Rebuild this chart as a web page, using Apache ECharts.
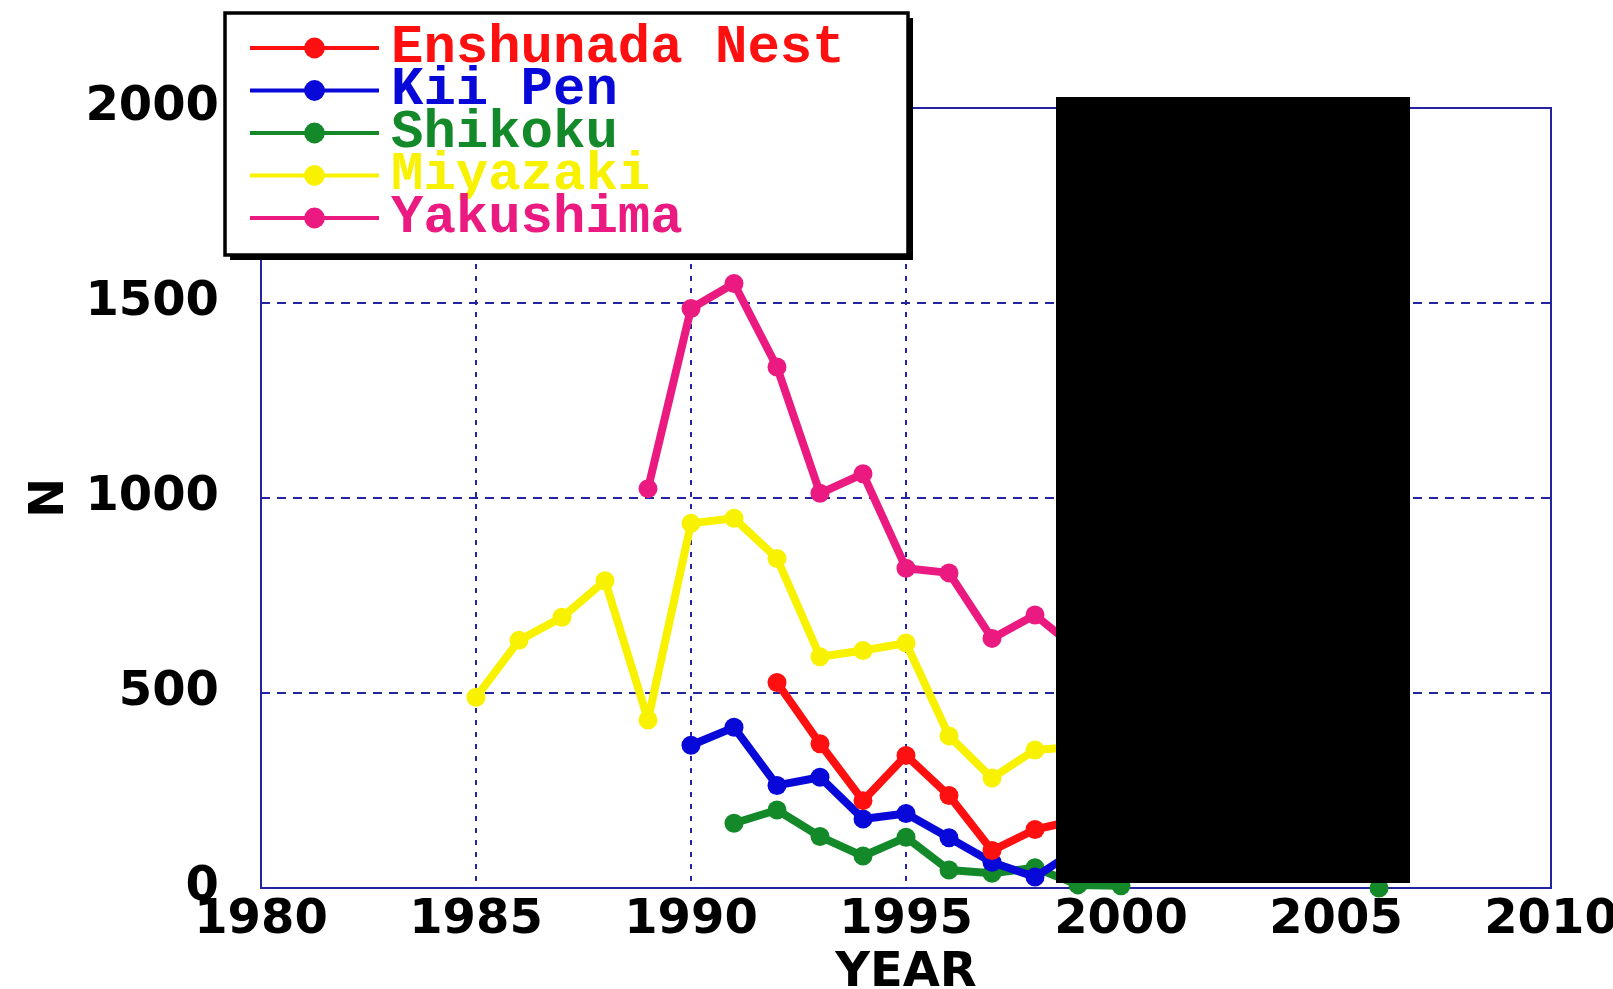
<!DOCTYPE html>
<html>
<head>
<meta charset="utf-8">
<script src="https://cdn.jsdelivr.net/npm/echarts@6/dist/echarts.min.js"></script>
<style>
html,body{margin:0;padding:0;background:#fff;}
#chart{width:1613px;height:989px;}
</style>
</head>
<body>
<div id="chart"></div>
<script>
// ---- data ----
var seriesNames = ['Enshunada Nest', 'Kii Pen', 'Shikoku', 'Miyazaki', 'Yakushima'];
var seriesColors = ['#ff1010', '#0808d8', '#13892a', '#f8f200', '#ea1a80'];

var enshunadaYears  = [1992, 1993, 1994, 1995, 1996, 1997, 1998, 1999];
var enshunadaValues = [527, 370, 224, 340, 237, 96, 150, 175];

var kiiYears  = [1990, 1991, 1992, 1993, 1994, 1995, 1996, 1997, 1998, 1999];
var kiiValues = [366, 412, 263, 284, 177, 191, 129, 66, 28, 100];

var shikokuYears  = [1991, 1992, 1993, 1994, 1995, 1996, 1997, 1998, 1999, 2000, 2001, 2006];
var shikokuValues = [166, 200, 132, 82, 130, 46, 38, 52, 8, 6, null, 0];

var miyazakiYears  = [1985, 1986, 1987, 1988, 1989, 1990, 1991, 1992, 1993, 1994, 1995, 1996, 1997, 1998, 1999];
var miyazakiValues = [489, 635, 694, 788, 431, 935, 948, 845, 593, 609, 628, 390, 282, 354, 362];

var yakushimaYears  = [1989, 1990, 1991, 1992, 1993, 1994, 1995, 1996, 1997, 1998, 1999];
var yakushimaValues = [1024, 1486, 1550, 1336, 1012, 1062, 820, 808, 640, 700, 610];

var xTicks = { min: 1980, max: 2010, interval: 5 };
var yTicks = { min: 0, max: 2000, interval: 500 };

// ---- build ----
function pairs(xs, ys) {
  return xs.map(function (x, i) { return [x, ys[i]]; });
}
var allData = [
  pairs(enshunadaYears, enshunadaValues),
  pairs(kiiYears, kiiValues),
  pairs(shikokuYears, shikokuValues),
  pairs(miyazakiYears, miyazakiValues),
  pairs(yakushimaYears, yakushimaValues)
];

var navy = '#2424a0';
var labelFont = { fontFamily: 'DejaVu Sans', fontWeight: 'bold', fontSize: 48, color: '#000' };

var chart = echarts.init(document.getElementById('chart'), null, { renderer: 'canvas' });
chart.setOption({
  backgroundColor: '#ffffff',
  animation: false,
  grid: {
    left: 261, right: 62, top: 108, bottom: 101,
    containLabel: false,
    outerBoundsMode: 'none',
    show: true, borderColor: navy, borderWidth: 2, backgroundColor: 'transparent'
  },
  legend: {
    orient: 'vertical',
    left: 248, top: 21,
    padding: 0,
    z: 6,
    itemWidth: 129,
    itemHeight: 26,
    itemGap: -11.5,
    lineStyle: { width: 4 },
    textStyle: {
      fontFamily: 'Liberation Mono',
      fontWeight: 'bold',
      fontSize: 54,
      padding: [0, 0, 0, 7]
    },
    data: seriesNames.map(function (n, i) {
      return { name: n, textStyle: { color: seriesColors[i] } };
    })
  },
  xAxis: {
    type: 'value',
    min: xTicks.min, max: xTicks.max, interval: xTicks.interval,
    name: 'YEAR',
    nameLocation: 'middle',
    nameGap: 54,
    nameTextStyle: labelFont,
    axisLine: { show: true, lineStyle: { color: navy, width: 2 } },
    axisTick: { show: false },
    axisLabel: Object.assign({ margin: 9, formatter: function (v) { return String(v); } }, labelFont),
    splitLine: { show: true, lineStyle: { color: navy, width: 2, type: [5, 7] } }
  },
  yAxis: {
    type: 'value',
    min: yTicks.min, max: yTicks.max, interval: yTicks.interval,
    name: 'N',
    nameLocation: 'middle',
    nameRotate: 90,
    nameGap: 186,
    nameTextStyle: labelFont,
    axisLine: { show: true, lineStyle: { color: navy, width: 2 } },
    axisTick: { show: false },
    axisLabel: Object.assign({ margin: 42, padding: [0, 0, 18, 0], formatter: function (v) { return String(v); } }, labelFont),
    splitLine: { show: true, lineStyle: { color: navy, width: 2, type: [9, 7] } }
  },
  series: seriesNames.map(function (n, i) {
    return {
      name: n,
      type: 'line',
      data: allData[i],
      connectNulls: false,
      symbol: 'circle',
      symbolSize: 19,
      showAllSymbol: true,
      color: seriesColors[i],
      lineStyle: { width: 8, color: seriesColors[i] },
      itemStyle: { color: seriesColors[i] },
      z: 2 + (4 - i)
    };
  }),
  graphic: [
    { // legend frame drop shadow
      type: 'rect', z: 3,
      shape: { x: 230, y: 18, width: 683, height: 242 },
      style: { fill: '#000000' }
    },
    { // legend frame
      type: 'rect', z: 4,
      shape: { x: 225, y: 13, width: 683, height: 242 },
      style: { fill: '#ffffff', stroke: '#000000', lineWidth: 3.5 }
    },
    { // black redaction block present in the source image
      type: 'rect', z: 100,
      shape: { x: 1056, y: 97, width: 354, height: 786 },
      style: { fill: '#000000' }
    }
  ]
});
</script>
</body>
</html>
